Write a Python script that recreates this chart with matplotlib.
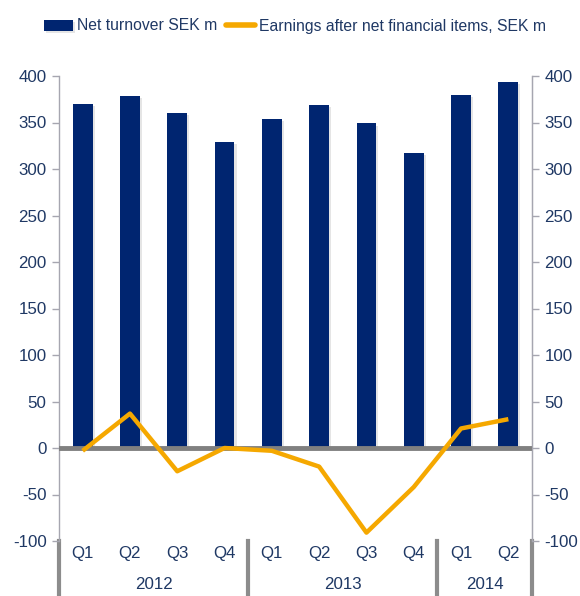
import matplotlib
matplotlib.use("Agg")
import matplotlib.pyplot as plt
import matplotlib.patheffects as pe
from matplotlib.lines import Line2D
from matplotlib.transforms import blended_transform_factory
import numpy as np

quarters = ["Q1", "Q2", "Q3", "Q4", "Q1", "Q2", "Q3", "Q4", "Q1", "Q2"]
years = ["2012", "2013", "2014"]
year_counts = [4, 4, 2]
turnover = [370, 379, 360, 329, 354, 369, 349, 317, 380, 394]
earnings = [-3, 37, -25, 0, -3, -20, -91, -42, 21, 31]
yticks = [-100, -50, 0, 50, 100, 150, 200, 250, 300, 350, 400]

navy = "#002570"
orange = "#F5A800"
txt = "#1F3864"
grey = "#8C8C8C"
fs = 12.2
lfs = 11.3

plt.rcParams["font.family"] = ["Liberation Sans", "DejaVu Sans"]

fig = plt.figure(figsize=(5.8, 5.96), dpi=100)
ax = fig.add_axes([59/580, 1-541/596, (532-59)/580, (541-76)/596])
x = np.arange(len(quarters))
bars = ax.bar(x, turnover, width=0.42, color=navy, zorder=2,
              label="Net turnover SEK m")
for b in bars:
    b.set_path_effects([pe.SimplePatchShadow(offset=(1.5, -1.5), shadow_rgbFace="#CCCCCC", alpha=0.5), pe.Normal()])
ax.axhline(0, color="#808080", lw=3.5, zorder=3)
line, = ax.plot(x, earnings, color=orange, lw=3.2, zorder=4,
                label="Earnings after net financial items, SEK m", solid_capstyle="butt")

ax.set_xlim(-0.5, len(quarters)-0.5)
ax.set_ylim(-100, 400)
ax.set_yticks(yticks)
ax.set_yticklabels([str(v) for v in yticks])
ax.tick_params(axis="y", labelsize=fs, labelcolor=txt, length=5, width=1,
               color="#A6A6B0", pad=4)
for s in ["top", "bottom"]:
    ax.spines[s].set_visible(False)
for s in ["left", "right"]:
    ax.spines[s].set_color("#A6A6B0")
    ax.spines[s].set_linewidth(1)

ax2 = ax.twinx()
ax2.set_ylim(-100, 400)
ax2.set_yticks(yticks)
ax2.set_yticklabels([str(v) for v in yticks])
ax2.tick_params(axis="y", labelsize=fs, labelcolor=txt, length=5, width=1,
                color="#A6A6B0", pad=4)
for s in ["top", "bottom", "left"]:
    ax2.spines[s].set_visible(False)
ax2.spines["right"].set_color("#A6A6B0")

ax.set_xticks(x)
ax.set_xticklabels(quarters)
ax.tick_params(axis="x", length=0, labelsize=fs, labelcolor=txt, pad=3.5)

trans = blended_transform_factory(ax.transData, ax.transAxes)
start = 0
bounds = [-0.5]
for yr, n in zip(years, year_counts):
    center = start + (n - 1) / 2
    ax.text(center, -0.094, yr, transform=trans, ha="center", va="center",
            fontsize=fs, color=txt)
    start += n
    bounds.append(start - 0.5)
for bnd in bounds:
    ax.plot([bnd, bnd], [0, -0.2], transform=trans, color=grey, lw=3,
            clip_on=False, zorder=1)

line_handle = Line2D([], [], color=orange, lw=4, solid_capstyle="round")
fig.legend(handles=[bars, line_handle],
           labels=["Net turnover SEK m", "Earnings after net financial items, SEK m"],
           loc="center", bbox_to_anchor=(295/580, 1-26/596),
           ncol=2, frameon=False, fontsize=lfs, handlelength=1.85,
           handletextpad=0.3, columnspacing=0.5, labelcolor=txt,
           borderpad=0, borderaxespad=0)

fig.savefig("out.png", dpi=100)
